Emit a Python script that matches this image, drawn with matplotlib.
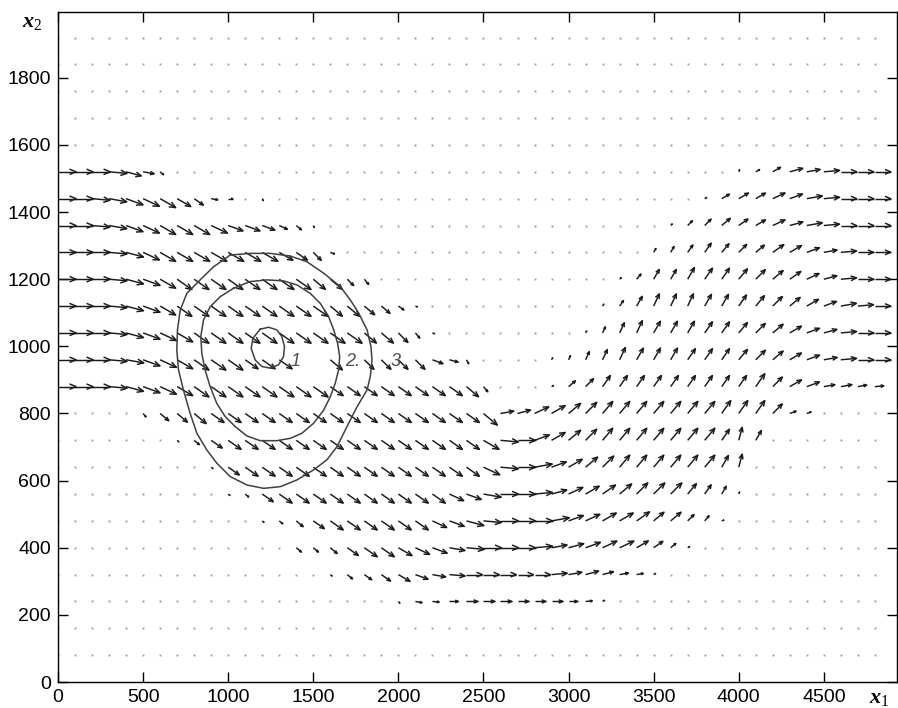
import numpy as np
import matplotlib
matplotlib.use('Agg')
import matplotlib.pyplot as plt
from matplotlib.collections import LineCollection
from matplotlib.transforms import IdentityTransform

plt.rcParams['font.family'] = ['Liberation Sans', 'DejaVu Sans']
plt.rcParams['mathtext.fontset'] = 'custom'
plt.rcParams['mathtext.it'] = 'Liberation Serif:bold:italic'
plt.rcParams['mathtext.rm'] = 'Liberation Serif'
plt.rcParams['mathtext.bf'] = 'Liberation Serif:bold'

# grid of the vector field (columns every 100, rows every 80)
x_nodes = np.arange(0, 4900, 100)
y_rows = [1920, 1840, 1760, 1680, 1600, 1520, 1440, 1360, 1280, 1200, 1120, 1040,
          960, 880, 800, 720, 640, 560, 480, 400, 320, 240, 160, 80]

# arrow direction on screen, degrees ('.' = zero vector, '_' = hidden by a label)
angle_code = {'>': 0, 'a': -5, 'b': -10, 'c': -15, 'd': -20, 'e': -25, 'f': -30,
              'g': -35, 'h': -40, 'i': -45, 'j': -50, 'k': -60,
              'A': 5, 'B': 10, 'C': 15, 'D': 20, 'E': 25, 'F': 30, 'G': 35,
              'H': 40, 'I': 45, 'J': 50, 'K': 55, 'L': 60, 'M': 65, 'N': 70, 'O': 75}

dir_rows = [
    ".......... .......... .......... .......... .........",
    ".......... .......... .......... .......... .........",
    ".......... .......... .......... .......... .........",
    ".......... .......... .......... .......... .........",
    ".......... .......... .......... .......... .........",
    ">>>acbh... .......... .......... .......... NFFCBA>>>",
    ">>abdeffgb >.k....... .......... ........FF FFEDBA>>>",
    ">>abdefffe dddehk.... .......... ......IIIH GFECBA>>>",
    ">>>aceffff ffffgid... .......... .....LLKKJ IHGFDBA>>",
    ">>>acdfggg ggggghhij. .......... ...IJLLLKK JIHGECA>>",
    ">>>acdfggg gggggghhhh gd........ ..LKLMMMLL KJIHFDBA>",
    ">>>acdefgg gggggggghh ijd....... .LMMMLLLKK JIHFDCA>>",
    ">>>abdefgg gggg__h_ii iidck....L MMMMLLLKKK JIHFDBA>>",
    ">>>acdefgg gggggggggg gggghj...F HIKKKKKKKK KKIFDBBBA",
    ".....jhhhg gggggggggg ggggghBCEF HIJJJJJJJK KKIDD....",
    ".......hhg gggggggggg gggggfa>DF HIJJJJJJJK OL.......",
    ".........h gggggggggg gggggea>BD FHIJJJJJJL O........",
    ".......... hhgggggggg gggedb>>AC EFGHIIIJKL N........",
    ".......... ..hhhggggg ggedca>>>B DEFFGHHIJD .........",
    ".......... ....hhhggg fedba>>>AB CDEEFGHF.. .........",
    ".......... ......hhgg fdba>>>>>A BCCBBF.... .........",
    ".......... .......... jba>>>>>>> >AF....... .........",
    ".......... .......... .......... .......... .........",
    ".......... .......... .......... .......... .........",
]

# relative arrow length on screen
len_rows = [
    "0000000000 0000000000 0000000000 0000000000 000000000",
    "0000000000 0000000000 0000000000 0000000000 000000000",
    "0000000000 0000000000 0000000000 0000000000 000000000",
    "0000000000 0000000000 0000000000 0000000000 000000000",
    "0000000000 0000000000 0000000000 0000000000 000000000",
    "8888752000 0000000000 0000000000 0000000000 124667777",
    "8888888753 2010000000 0000000000 0000000014 556677777",
    "8888888888 7764310000 0000000000 0000001345 556677777",
    "8888888888 8887652000 0000000000 0000023455 556666777",
    "8888888888 8888877430 0000000000 0001355666 666666777",
    "8888888888 8888887765 3100000000 0013566666 666666777",
    "8888888888 8888888877 6310000000 0135666666 666666777",
    "8888888888 8777007066 6654200001 2456666666 666666777",
    "8888888888 8888887777 7777730001 4566666666 676665544",
    "0000025677 7777777777 7777786677 7777777777 776320000",
    "0000000136 7777777777 7777788877 7777777776 650000000",
    "0000000001 6777777777 7777788887 7777777776 600000000",
    "0000000000 1267777777 7777788887 7777777654 100000000",
    "0000000000 0012467777 7777888888 7777766431 000000000",
    "0000000000 0000334677 7777888887 7777653100 000000000",
    "0000000000 0000001345 6667777777 6654310000 000000000",
    "0000000000 0000000000 1334555555 4310000000 000000000",
    "0000000000 0000000000 0000000000 0000000000 000000000",
    "0000000000 0000000000 0000000000 0000000000 000000000",
]

# contour lines (levels 1, 2, 3)
c1_x = [1188, 1237, 1286, 1315, 1331, 1325, 1296, 1247, 1198, 1159, 1135, 1145, 1188]
c1_y = [1051, 1057, 1049, 1029, 999, 969, 945, 935, 940, 959, 994, 1024, 1051]
c2_x = [1031, 1129, 1227, 1325, 1404, 1482, 1541, 1590, 1620, 1643, 1655, 1649, 1629,
        1600, 1561, 1502, 1433, 1365, 1286, 1188, 1110, 1041, 982, 933, 894, 864, 845,
        839, 855, 894, 953, 1031]
c2_y = [1173, 1193, 1198, 1195, 1183, 1158, 1128, 1089, 1049, 1009, 969, 930, 890,
        850, 810, 771, 741, 726, 719, 719, 733, 761, 791, 830, 880, 930, 979,
        1029, 1079, 1118, 1148, 1173]
c3_x = [1012, 1129, 1247, 1365, 1463, 1561, 1659, 1718, 1767, 1816, 1839, 1845, 1835,
        1816, 1757, 1698, 1639, 1580, 1502, 1404, 1306, 1208, 1110, 1012, 933, 875, 816,
        776, 737, 708, 698, 702, 718, 757, 835, 914, 1012]
c3_y = [1272, 1277, 1277, 1269, 1252, 1218, 1178, 1138, 1099, 1049, 999, 959, 910,
        870, 820, 761, 701, 662, 632, 602, 582, 577, 587, 612, 652, 691, 741,
        801, 870, 930, 989, 1049, 1108, 1158, 1198, 1237, 1272]
label_text = ['1', '2.', '3']
label_x = [1368, 1688, 1956]
label_y = [954, 954, 954]

PX = 2.25                 # screen pixels per length unit
ALPHA, BETA = 0.36, 0.42  # arrow head proportions (matlab style open head)

# ---- unpack the maps into line arrows (shaft + open head)
segs, offs = [], []
zx, zy = [], []
for yv, drow, lrow in zip(y_rows, dir_rows, len_rows):
    drow = drow.replace(' ', '')
    lrow = lrow.replace(' ', '')
    for xv, d, l in zip(x_nodes, drow, lrow):
        if d == '_':
            continue
        if d == '.' or l == '0':
            zx.append(xv)
            zy.append(yv)
            continue
        th = np.radians(angle_code[d])
        u = int(l) * PX * np.cos(th)
        v = int(l) * PX * np.sin(th)
        h1 = (u - ALPHA * (u + BETA * v), v - ALPHA * (v - BETA * u))
        h2 = (u - ALPHA * (u - BETA * v), v - ALPHA * (v + BETA * u))
        segs.append([(0, 0), (u, v)])
        offs.append((xv, yv))
        segs.append([h1, (u, v), h2])
        offs.append((xv, yv))

fig = plt.figure(figsize=(8.98, 7.08), dpi=100)
ax = fig.add_axes([0.0646, 0.0367, 0.9343, 0.9463])

ax.plot(zx, zy, linestyle='none', marker='s', markersize=1.4,
        markeredgewidth=0, color='#a0a0a0')
arrows = LineCollection(segs, offsets=offs, offset_transform=ax.transData,
                        transform=IdentityTransform(), colors='#1a1a1a',
                        linewidths=1.05)
ax.add_collection(arrows, autolim=False)

for cx, cy in [(c1_x, c1_y), (c2_x, c2_y), (c3_x, c3_y)]:
    ax.plot(cx, cy, color='#404040', lw=1.1)
for t, lx, ly in zip(label_text, label_x, label_y):
    ax.text(lx, ly, t, fontsize=13, style='italic', color='#505050',
            ha='left', va='center')

ax.set_xlim(0, 4930)
ax.set_ylim(0, 1996)
ax.set_xticks([0, 500, 1000, 1500, 2000, 2500, 3000, 3500, 4000, 4500])
ax.set_yticks([0, 200, 400, 600, 800, 1000, 1200, 1400, 1600, 1800])
ax.tick_params(direction='in', length=7, width=1, top=True, right=True,
               labelsize=14, pad=5)
for s in ax.spines.values():
    s.set_linewidth(1.0)

fig.text(22 / 898, 1 - 22 / 708, r'$x_2$', fontsize=16, ha='left', va='center')
fig.text(869 / 898, 1 - 697 / 708, r'$x_1$', fontsize=16, ha='left', va='center')

fig.savefig('out.png', dpi=100)
